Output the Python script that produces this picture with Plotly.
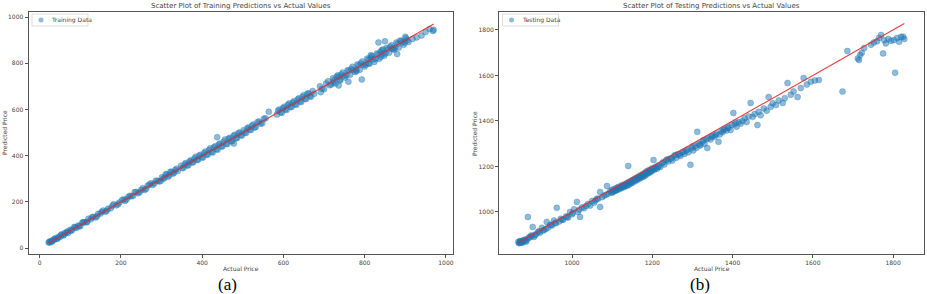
import plotly.graph_objects as go

# ---------------- data ----------------
train_actual = [
    22, 25, 28, 31, 35, 38, 42, 46, 50, 54, 58, 62, 66, 70, 75, 80, 85, 90, 95, 100,
    105, 110, 115, 120, 126, 132, 138, 144, 150, 156, 162, 168, 175, 182, 189, 196, 203, 210, 218, 226,
    234, 242, 250, 258, 266, 274, 282, 290, 298,
    304, 310, 316, 322, 328, 334, 340, 348, 354, 360, 366, 372, 378, 384, 390, 396, 402, 408, 414, 420,
    426, 432, 438, 444, 450, 456, 462, 468, 474, 480, 486, 492, 498,
    502, 508, 514, 520, 526, 532, 540, 548, 556, 584, 590, 596, 602, 608, 614, 620, 626, 632, 638, 644,
    650, 656, 662, 668, 676, 690, 700, 710, 718,
    722, 728, 734, 740, 746, 752, 758, 764, 770, 776, 782, 788, 794, 800, 806, 812, 818, 824, 830, 836,
    842, 848, 854, 860, 866, 872, 878, 884, 890, 896, 902, 908,
    725, 737, 749, 761, 773, 785, 797, 809, 821, 833, 845, 857, 869, 881, 893,
    437, 478, 564, 692, 793, 834, 736, 760, 880, 850,
    918, 928, 940, 950, 960, 968, 970,
    24, 30, 36, 44, 52, 60, 68, 77, 87, 97, 107, 117, 129, 141, 153, 165, 179, 193, 207, 214,
    222, 230, 238, 246, 254, 262, 270, 278, 286, 294,
    301, 307, 313, 319, 325, 331, 337, 351, 357, 363, 369, 375, 381, 387, 393, 399, 405, 411, 417, 423,
    429, 435, 441, 447, 453, 459, 465, 471, 477, 483, 489, 495,
    505, 511, 517, 523, 529, 536, 544, 552, 587, 593, 599, 605, 611, 617, 623, 629, 635, 641, 647, 653,
    659, 665, 672, 695, 705, 714,
    723, 731, 739, 743, 755, 767, 779, 791, 803, 815, 827, 839, 851, 863, 875, 887, 899, 905, 780, 810,
    840, 870, 900, 815, 845,
]
train_pred = [
    24, 24, 31, 29, 36, 42, 39, 48, 48, 59, 54, 65, 67, 65, 79, 78, 91, 87, 97, 94,
    110, 111, 111, 127, 124, 135, 132, 148, 149, 162, 157, 170, 172, 189, 185, 197, 208, 204, 221, 224,
    242, 237, 252, 251, 270, 280, 279, 291, 290,
    300, 318, 309, 330, 322, 338, 333, 356, 347, 368, 358, 380, 371, 395, 382, 404, 392, 418, 405, 432,
    414, 441, 425, 452, 440, 470, 450, 477, 462, 490, 476, 500, 487,
    510, 498, 522, 511, 535, 524, 548, 540, 562, 578, 600, 585, 612, 598, 626, 610, 636, 620, 648, 632,
    662, 645, 670, 655, 668, 700, 688, 722, 708,
    735, 712, 748, 725, 760, 738, 770, 750, 785, 762, 795, 772, 808, 786, 820, 798, 832, 806, 842, 820,
    856, 832, 866, 845, 878, 858, 890, 868, 898, 880, 908, 892,
    728, 742, 745, 768, 770, 790, 793, 815, 817, 838, 842, 860, 865, 885, 890,
    480, 452, 590, 675, 730, 890, 704, 720, 840, 895,
    905, 912, 920, 935, 948, 940, 945,
    27, 28, 38, 41, 55, 57, 71, 74, 90, 94, 111, 113, 133, 137, 157, 161, 183, 189, 211, 210,
    226, 226, 243, 241, 259, 256, 275, 273, 291, 288,
    306, 303, 320, 314, 330, 326, 343, 346, 363, 357, 375, 370, 388, 381, 400, 392, 411, 404, 424, 416,
    436, 428, 448, 440, 460, 451, 473, 462, 485, 475, 497, 488,
    500, 519, 512, 530, 522, 545, 538, 560, 595, 588, 606, 600, 620, 612, 630, 622, 643, 634, 655, 646,
    668, 658, 680, 690, 712, 705,
    718, 742, 730, 752, 748, 775, 772, 800, 795, 825, 818, 850, 842, 872, 866, 898, 890, 900, 765, 800,
    828, 862, 915, 835, 860,
]

test_actual = [
    866, 868, 870, 872, 875, 878, 880, 884, 888, 890, 895, 898, 902, 905, 910, 915, 920, 925, 930, 937,
    940, 945, 950, 955, 960, 962, 968, 972, 978, 985, 990, 995, 1000, 1005, 1012, 1015, 1020, 1025, 1030, 1040,
    1045, 1050, 1055, 1062, 1070, 1070, 1075, 1080, 1087, 1090,
    1095, 1098, 1100, 1102, 1105, 1108, 1110, 1112, 1115, 1118, 1120, 1122, 1125, 1128, 1130, 1132, 1135, 1138, 1140, 1140,
    1142, 1145, 1148, 1150, 1152, 1155, 1158, 1160, 1162, 1165, 1168, 1170, 1172, 1175, 1178, 1180, 1183, 1185, 1188, 1190,
    1193, 1195, 1198, 1200, 1203, 1205, 1208, 1212, 1215, 1220,
    1225, 1230, 1235, 1240, 1245, 1250, 1255, 1260, 1265, 1270, 1275, 1280, 1285, 1290, 1295, 1298, 1302, 1306, 1310, 1312,
    1315, 1320, 1325, 1330, 1337, 1340, 1345, 1350, 1355, 1360, 1365, 1368, 1372, 1375, 1380, 1385, 1390, 1395, 1402, 1405,
    1410, 1415, 1420,
    1425, 1430, 1435, 1440, 1445, 1450, 1455, 1462, 1465, 1470, 1478, 1485, 1490, 1495, 1500, 1508, 1515, 1525, 1530, 1537,
    1545, 1552, 1562, 1570, 1577, 1585, 1595, 1605, 1615,
    1674, 1686, 1712, 1715, 1718, 1722, 1728, 1745, 1752, 1760, 1765, 1770, 1775, 1778, 1782, 1788, 1795, 1802, 1805, 1810,
    1815, 1820, 1825, 1828,
    1101, 1106, 1111, 1116, 1121, 1126, 1131, 1136, 1141, 1146, 1151, 1156, 1161, 1166, 1171, 1176, 1181, 1186, 1191, 1196,
    1201, 1206, 1211, 1216,
    1228, 1238, 1248, 1258, 1268, 1278, 1288, 1300, 1318, 1328, 1335, 1348, 1358, 1378, 1388, 1398, 1408,
    869, 871, 874, 877, 882, 886, 892, 900, 908, 918, 928, 935, 948, 958, 975, 988, 1002, 1018, 1035, 1058,
    1065, 1085,
]
test_pred = [
    868, 862, 872, 864, 870, 866, 876, 872, 880, 978, 888, 896, 934, 890, 902, 912, 908, 930, 920, 956,
    930, 942, 940, 962, 950, 1018, 958, 970, 966, 980, 975, 1000, 990, 1012, 1044, 1000, 978, 1020, 1016, 1035,
    1028, 1048, 1040, 1058, 1022, 1088, 1065, 1072, 1114, 1080,
    1092, 1085, 1098, 1090, 1100, 1094, 1105, 1098, 1110, 1100, 1112, 1105, 1118, 1108, 1120, 1112, 1125, 1115, 1202, 1130,
    1120, 1135, 1126, 1140, 1130, 1145, 1136, 1150, 1140, 1155, 1146, 1160, 1150, 1165, 1155, 1170, 1160, 1178, 1168, 1182,
    1172, 1186, 1178, 1192, 1228, 1185, 1198, 1190, 1205, 1198,
    1215, 1208, 1228, 1222, 1235, 1226, 1248, 1238, 1255, 1246, 1262, 1255, 1270, 1262, 1207, 1280, 1270, 1290, 1282, 1352,
    1300, 1292, 1310, 1300, 1281, 1325, 1318, 1335, 1330, 1345, 1308, 1340, 1355, 1350, 1365, 1358, 1372, 1360, 1435, 1385,
    1375, 1395, 1388,
    1400, 1412, 1395, 1420, 1479, 1418, 1430, 1382, 1440, 1425, 1455, 1445, 1505, 1462, 1478, 1470, 1490, 1479, 1500, 1567,
    1515, 1530, 1505, 1545, 1589, 1560, 1572, 1578, 1580,
    1529, 1707, 1675, 1668, 1690, 1700, 1721, 1735, 1745, 1750, 1765, 1778, 1697, 1755, 1741, 1760, 1752, 1756, 1612, 1765,
    1748, 1770, 1770, 1760,
    1085, 1092, 1095, 1104, 1106, 1112, 1116, 1120, 1126, 1128, 1136, 1141, 1145, 1150, 1155, 1158, 1164, 1170, 1175, 1180,
    1186, 1190, 1195, 1200,
    1220, 1232, 1236, 1250, 1252, 1265, 1275, 1288, 1296, 1316, 1320, 1330, 1338, 1360, 1370, 1382, 1392,
    865, 870, 866, 873, 878, 870, 888, 895, 898, 915, 918, 925, 944, 952, 966, 978, 995, 1010, 1026, 1050,
    1058, 1075,
]

train_ticks = [0, 200, 400, 600, 800, 1000]
test_ticks = [1000, 1200, 1400, 1600, 1800]

titles = ["Scatter Plot of Training Predictions vs Actual Values",
          "Scatter Plot of Testing Predictions vs Actual Values"]
legend_names = ["Training Data", "Testing Data"]
captions = ["(a)", "(b)"]

# ---------------- style ----------------
W, H = 927, 294
FILL = "rgba(31,119,180,0.5)"
EDGE = "rgba(31,119,180,0.5)"
TXT = "#444444"
SPINE = "#555555"
FONT = "DejaVu Sans"
RED = "rgba(235,40,40,0.9)"

fig = go.Figure()

marker = dict(size=6, color=FILL, line=dict(width=0.6, color=EDGE))
fig.add_trace(go.Scatter(x=train_actual, y=train_pred, mode="markers", name=legend_names[0],
                         marker=marker, xaxis="x", yaxis="y", showlegend=False))
fig.add_trace(go.Scatter(x=[min(train_actual), max(train_actual)],
                         y=[min(train_actual), max(train_actual)], mode="lines",
                         line=dict(color=RED, width=1.1), xaxis="x", yaxis="y", showlegend=False))
fig.add_trace(go.Scatter(x=test_actual, y=test_pred, mode="markers", name=legend_names[1],
                         marker=marker, xaxis="x2", yaxis="y2", showlegend=False))
fig.add_trace(go.Scatter(x=[min(test_actual), max(test_actual)],
                         y=[min(test_actual), max(test_actual)], mode="lines",
                         line=dict(color=RED, width=1.1), xaxis="x2", yaxis="y2", showlegend=False))


def px_x(p):
    return p / W


def px_y(p):
    return 1 - p / H


ax_common = dict(showgrid=False, zeroline=False, showline=True, mirror=True,
                 linecolor=SPINE, linewidth=1, ticks="outside", ticklen=3,
                 tickcolor=SPINE, tickwidth=1,
                 tickfont=dict(family=FONT, size=6, color=TXT))

fig.update_layout(
    width=W, height=H,
    margin=dict(l=0, r=0, t=0, b=0),
    paper_bgcolor="white", plot_bgcolor="white",
    xaxis=dict(domain=[px_x(28.5), px_x(453)], range=[-27.5, 1017.5],
               tickvals=train_ticks, anchor="y", **ax_common),
    yaxis=dict(domain=[px_y(254), px_y(12)], range=[-26, 1022],
               tickvals=train_ticks, anchor="x", **ax_common),
    xaxis2=dict(domain=[px_x(499), px_x(924)], range=[818, 1877],
                tickvals=test_ticks, anchor="y2", **ax_common),
    yaxis2=dict(domain=[px_y(254), px_y(12)], range=[815, 1879],
                tickvals=test_ticks, anchor="x2", **ax_common),
    showlegend=False,
)

ann = []
shapes = []
panels = [
    dict(cx=240.5, left=28.5, ylab_x=5, cap_x=227),
    dict(cx=711.5, left=499, ylab_x=475, cap_x=700),
]
for i, p in enumerate(panels):
    ann.append(dict(text=titles[i], x=px_x(p["cx"]), y=px_y(6), xref="paper", yref="paper",
                    showarrow=False, xanchor="center", yanchor="middle",
                    font=dict(family=FONT, size=7, color=TXT)))
    ann.append(dict(text="Actual Price", x=px_x(p["cx"]), y=px_y(268), xref="paper", yref="paper",
                    showarrow=False, xanchor="center", yanchor="middle",
                    font=dict(family=FONT, size=6, color=TXT)))
    ann.append(dict(text="Predicted Price", x=px_x(p["ylab_x"]), y=px_y(133), xref="paper", yref="paper",
                    showarrow=False, xanchor="center", yanchor="middle", textangle=-90,
                    font=dict(family=FONT, size=6, color=TXT)))
    ann.append(dict(text=captions[i], x=px_x(p["cap_x"]), y=px_y(284), xref="paper", yref="paper",
                    showarrow=False, xanchor="center", yanchor="middle",
                    font=dict(family="Liberation Serif", size=17, color="black")))
    lx = p["left"] + 3.5
    shapes.append(dict(type="rect", xref="paper", yref="paper",
                       x0=px_x(lx), x1=px_x(lx + 56), y0=px_y(26), y1=px_y(14),
                       line=dict(color="#dddddd", width=1), fillcolor="rgba(255,255,255,0.8)"))
    shapes.append(dict(type="circle", xref="paper", yref="paper",
                       x0=px_x(lx + 6.5), x1=px_x(lx + 11.5), y0=px_y(22.5), y1=px_y(17.5),
                       line=dict(width=0), fillcolor=FILL))
    ann.append(dict(text=legend_names[i], x=px_x(lx + 17), y=px_y(20), xref="paper", yref="paper",
                    showarrow=False, xanchor="left", yanchor="middle",
                    font=dict(family=FONT, size=6, color=TXT)))

fig.update_layout(annotations=ann, shapes=shapes)
fig.write_html("out.html", config={"displayModeBar": False},
               post_script="document.body.style.margin='0px';")
